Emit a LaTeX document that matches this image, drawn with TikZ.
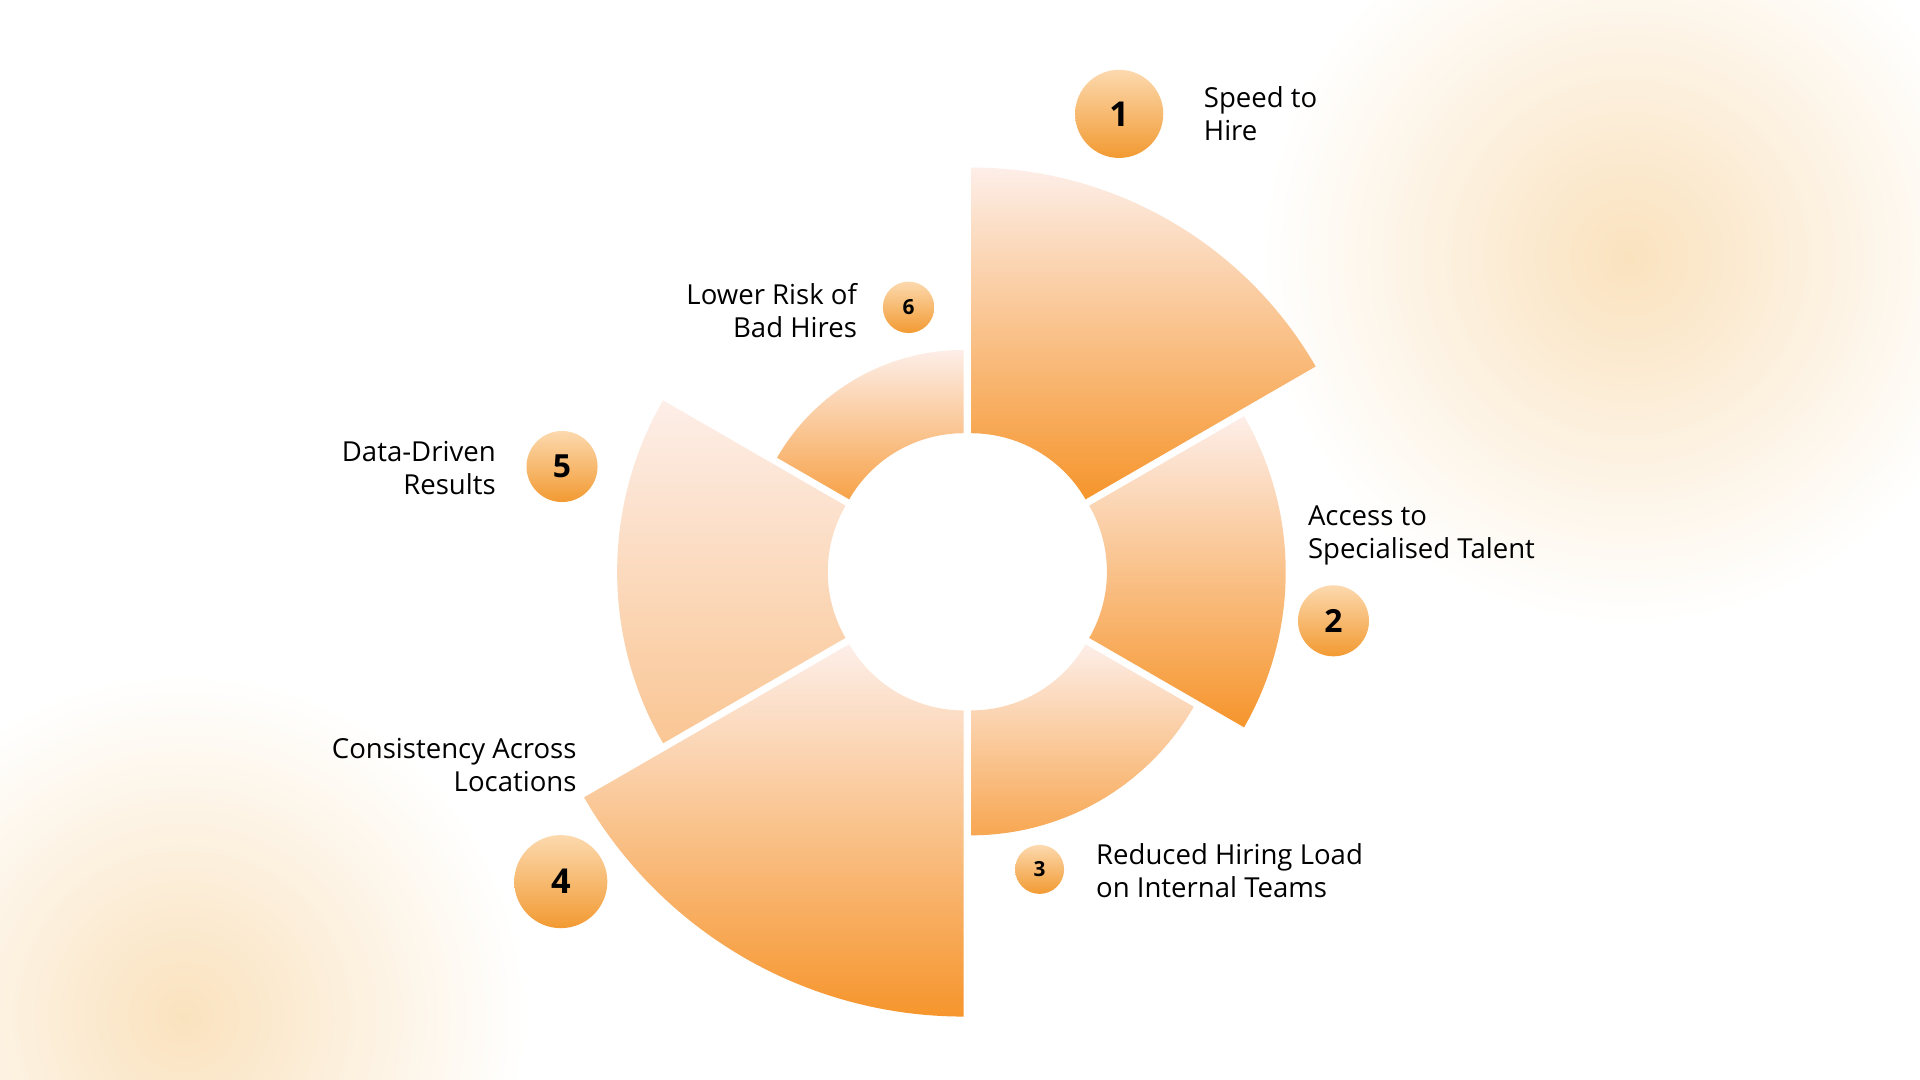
\documentclass[tikz,border=0pt]{standalone}
\usepackage{fontspec}
\setmainfont{Open Sans}
\definecolor{pk}{HTML}{FDEEE8}
\definecolor{og}{HTML}{F6952C}
\definecolor{cl}{HTML}{FCD9AE}
\definecolor{cd}{HTML}{F29A32}
\definecolor{glow}{HTML}{FAE2BE}
\tikzset{
  badge/.style={circle,top color=cl,bottom color=cd,inner sep=0pt,font=\bfseries},
  lbl/.style={font=\fontsize{22.5}{27}\selectfont,align=left,inner sep=0pt},
  lblr/.style={font=\fontsize{22.5}{27}\selectfont,align=right,inner sep=0pt}
}
\begin{document}
\begin{tikzpicture}[x=1pt,y=1pt]
\useasboundingbox (0,0) rectangle (1568,882);
\clip (0,0) rectangle (1568,882);
\fill[white] (0,0) rectangle (1568,882);
\shade[inner color=glow,outer color=white] (1330,672) circle[radius=300];
\shade[inner color=glow,outer color=white] (150,52) circle[radius=280];
\coordinate (c) at (790,415);
\foreach \a/\b/\r/\bc in {30/90/325/og,-30/30/254/og,-90/-30/210/og!80!pk,-150/-90/358/og,150/210/280/og!45!pk,90/150/176/og!85!pk}{
  \pgfmathsetmacro{\m}{(\a+\b)/2}
  \begin{scope}[shift={(\m:6)}]
  \shade[top color=pk,bottom color=\bc]
    ([shift={(\a:108)}]790,415) arc[start angle=\a,end angle=\b,radius=108]
    -- ([shift={(\b:\r)}]790,415) arc[start angle=\b,end angle=\a,radius=\r] -- cycle;
  \end{scope}
}
\node[badge,minimum size=72,font=\bfseries\fontsize{28}{30}\selectfont] (b1) at (914,789) {1};
\node[badge,minimum size=58,font=\bfseries\fontsize{26}{28}\selectfont] (b2) at (1089,375) {2};
\node[badge,minimum size=40,font=\bfseries\fontsize{17}{20}\selectfont] (b3) at (849,172) {3};
\node[badge,minimum size=76,font=\bfseries\fontsize{28}{30}\selectfont] (b4) at (458,162) {4};
\node[badge,minimum size=58,font=\bfseries\fontsize{26}{28}\selectfont] (b5) at (459,501) {5};
\node[badge,minimum size=42,font=\bfseries\fontsize{17}{20}\selectfont] (b6) at (742,631) {6};
\node[lbl,anchor=west] (t1) at (983,789) {Speed to\\Hire};
\node[lbl,anchor=west] (t2) at (1068,445) {Access to\\Specialised Talent};
\node[lbl,anchor=west] (t3) at (895,171) {Reduced Hiring Load\\on Internal Teams};
\node[lblr,anchor=east] (t4) at (471,257) {Consistency Across\\Locations};
\node[lblr,anchor=east] (t5) at (405,500) {Data-Driven\\Results};
\node[lblr,anchor=east] (t6) at (700,628) {Lower Risk of\\Bad Hires};
\end{tikzpicture}
\end{document}
